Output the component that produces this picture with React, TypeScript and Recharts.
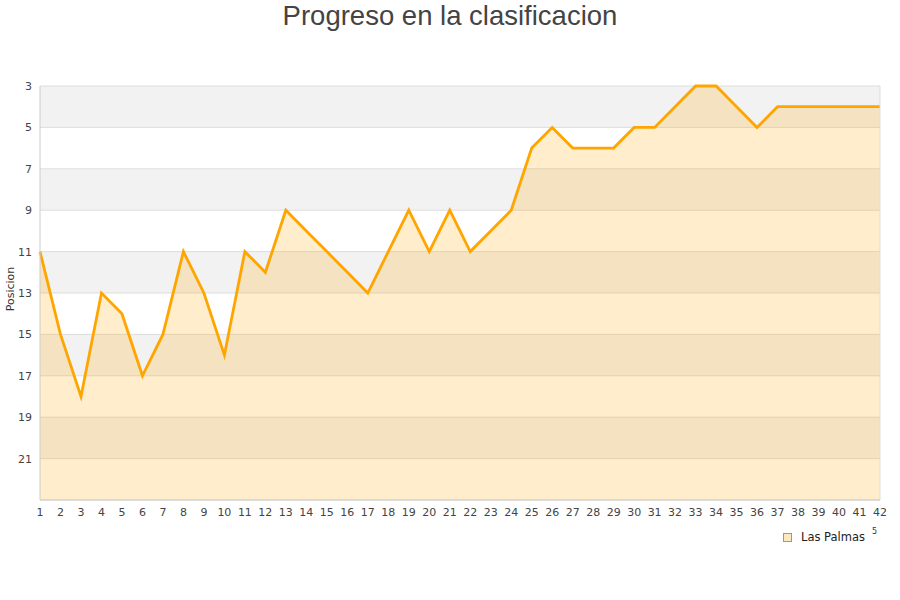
import React from "react";
import { AreaChart, Area, XAxis, YAxis, CartesianGrid, ReferenceLine } from "recharts";

const jornadas: number[] = [
  1, 2, 3, 4, 5, 6, 7, 8, 9, 10, 11, 12, 13, 14, 15, 16, 17, 18, 19, 20, 21,
  22, 23, 24, 25, 26, 27, 28, 29, 30, 31, 32, 33, 34, 35, 36, 37, 38, 39, 40, 41, 42,
];
const posiciones: number[] = [
  11, 15, 18, 13, 14, 17, 15, 11, 13, 16, 11, 12, 9, 10, 11, 12, 13, 11, 9, 11, 9,
  11, 10, 9, 6, 5, 6, 6, 6, 5, 5, 4, 3, 3, 4, 5, 4, 4, 4, 4, 4, 4,
];
const yTicks: number[] = [3, 5, 7, 9, 11, 13, 15, 17, 19, 21];
const title = "Progreso en la clasificacion";
const yLabel = "Posicion";
const seriesName = "Las Palmas";

const data = jornadas.map((j, i) => ({ j, pos: posiciones[i] }));

const tickStyle = { fontFamily: "DejaVu Sans", fontSize: 11, fill: "#444" };

export default function App() {
  return (
    <div style={{ position: "absolute", left: 0, top: 0, width: 900, height: 600, background: "#fff" }}>
      <div
        style={{
          position: "absolute",
          left: 0,
          top: 0,
          width: 900,
          textAlign: "center",
          fontFamily: "Liberation Sans",
          fontSize: 27.5,
          color: "#444",
          lineHeight: "32px",
        }}
      >
        {title}
      </div>
      <AreaChart width={900} height={600} data={data} margin={{ top: 86, right: 20, left: 0, bottom: 0 }}>
        <CartesianGrid
          vertical={false}
          stroke="#dddddd"
          strokeWidth={1}
          horizontalFill={["#f2f2f2", "#ffffff"]}
        />
        <XAxis
          dataKey="j"
          type="number"
          domain={[1, 42]}
          ticks={jornadas}
          interval={0}
          tickLine={false}
          axisLine={{ stroke: "#cccccc" }}
          tick={tickStyle}
          height={100}
        />
        <YAxis
          reversed
          domain={[3, 23]}
          ticks={yTicks}
          interval={0}
          tickLine={false}
          axisLine={{ stroke: "#cccccc" }}
          tick={tickStyle}
          width={40}
          label={{
            value: yLabel,
            angle: -90,
            position: "insideLeft",
            dx: 5,
            dy: -4,
            style: { fontFamily: "DejaVu Sans", fontSize: 11, fill: "#333", textAnchor: "middle" },
          }}
        />
        <ReferenceLine x={42} stroke="#dddddd" />
        <Area
          type="linear"
          dataKey="pos"
          name={seriesName}
          stroke="#ffa500"
          strokeWidth={2.8}
          fill="#ffa500"
          fillOpacity={0.2}
          baseValue={23}
          dot={false}
          activeDot={false}
          isAnimationActive={false}
        />
      </AreaChart>
      <div
        style={{
          position: "absolute",
          left: 783,
          top: 530,
          display: "flex",
          alignItems: "center",
          fontFamily: "DejaVu Sans",
          fontSize: 11.5,
          color: "#222",
        }}
      >
        <span
          style={{
            display: "inline-block",
            width: 7,
            height: 7,
            background: "#fde9c0",
            border: "1px solid #999",
            marginRight: 9,
          }}
        />
        <span>{seriesName}</span>
      </div>
      <div
        style={{
          position: "absolute",
          left: 872,
          top: 527,
          fontFamily: "DejaVu Sans",
          fontSize: 8,
          color: "#333",
        }}
      >
        5
      </div>
    </div>
  );
}
